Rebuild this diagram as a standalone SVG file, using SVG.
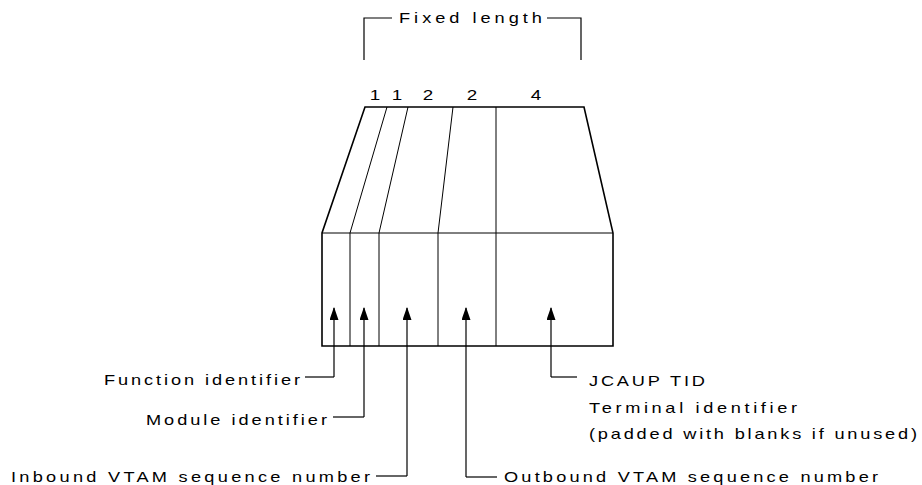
<svg xmlns="http://www.w3.org/2000/svg" width="922" height="485" viewBox="0 0 922 485">
<style>
text{font-family:"Liberation Sans",Arial,sans-serif;font-size:14px;fill:#000}
.num{font-size:14.5px}
.outline{fill:none;stroke:#000;stroke-width:1.6;stroke-linejoin:miter}
.div{fill:none;stroke:#000;stroke-width:1}
.conn{fill:none;stroke:#000;stroke-width:1.2}
</style>
<defs>
<marker id="ah" markerWidth="13" markerHeight="9" refX="12" refY="4.5" orient="auto" markerUnits="userSpaceOnUse" viewBox="0 0 13 9">
<path d="M0,0 L13,4.5 L0,9 Z" fill="#000"/>
</marker>
</defs>
<rect width="922" height="485" fill="#fff"/>
<g id="fixed-length">
<path class="conn" d="M364,60 V18 H392 M547,18 H581 V60"/>
<text transform="translate(399,23) scale(1.3,1)" textLength="110" lengthAdjust="spacing">Fixed length</text>
</g>
<g id="sizes">
<text class="num" transform="translate(375,100) scale(1.3,1)" text-anchor="middle">1</text>
<text class="num" transform="translate(397,100) scale(1.3,1)" text-anchor="middle">1</text>
<text class="num" transform="translate(428,100) scale(1.3,1)" text-anchor="middle">2</text>
<text class="num" transform="translate(472,100) scale(1.3,1)" text-anchor="middle">2</text>
<text class="num" transform="translate(536,100) scale(1.3,1)" text-anchor="middle">4</text>
</g>
<g id="record">
<path class="outline" d="M365,107 H584 L613,233 V346 H322 V233 Z"/>
<path class="div" d="M322,233 H613 M387,107 L350,233 V346 M408,107 L379,233 V346 M453,107 L438,233 V346 M496,107 V346"/>
</g>
<g id="connectors">
<path class="conn" d="M334,377 V308" marker-end="url(#ah)"/>
<path class="conn" d="M305,377 H334"/>
<path class="conn" d="M364,417 V308" marker-end="url(#ah)"/>
<path class="conn" d="M333,417 H364"/>
<path class="conn" d="M407,476 V308" marker-end="url(#ah)"/>
<path class="conn" d="M376,476 H407"/>
<path class="conn" d="M466,477 V308" marker-end="url(#ah)"/>
<path class="conn" d="M466,477 H497"/>
<path class="conn" d="M551,377 V308" marker-end="url(#ah)"/>
<path class="conn" d="M551,377 H577"/>
</g>
<g id="function-identifier">
<text transform="translate(104,385) scale(1.3,1)" textLength="150.8" lengthAdjust="spacing">Function identifier</text>
</g>
<g id="module-identifier">
<text transform="translate(146,425) scale(1.3,1)" textLength="139.2" lengthAdjust="spacing">Module identifier</text>
</g>
<g id="inbound">
<text transform="translate(11,482) scale(1.3,1)" textLength="276.2" lengthAdjust="spacing">Inbound VTAM sequence number</text>
</g>
<g id="outbound">
<text transform="translate(504,482) scale(1.3,1)" textLength="287.7" lengthAdjust="spacing">Outbound VTAM sequence number</text>
</g>
<g id="tid">
<text transform="translate(589,386) scale(1.3,1)" textLength="89.2" lengthAdjust="spacing">JCAUP TID</text>
<text transform="translate(589,413) scale(1.3,1)" textLength="160" lengthAdjust="spacing">Terminal identifier</text>
<text transform="translate(589,439) scale(1.3,1)" textLength="252.3" lengthAdjust="spacing">(padded with blanks if unused)</text>
</g>
</svg>
